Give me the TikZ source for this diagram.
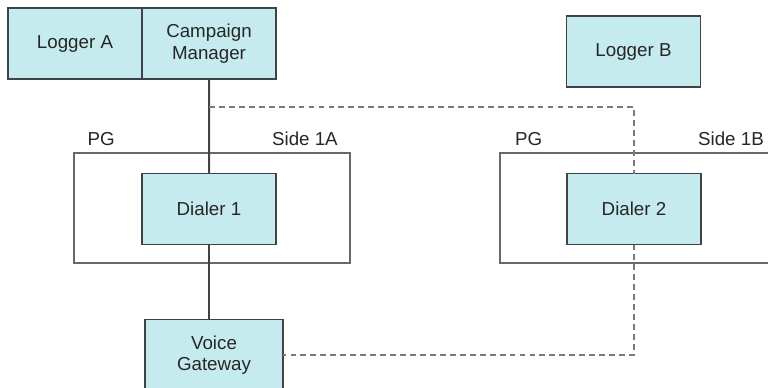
\documentclass[tikz,border=0pt]{standalone}
\usepackage{fontspec}
\setmainfont{Liberation Sans}
\usetikzlibrary{positioning,calc}
\definecolor{boxfill}{HTML}{C6EBEE}
\definecolor{boxline}{HTML}{3F4346}
\definecolor{dashgray}{HTML}{7A7A7A}

\begin{document}
\begin{tikzpicture}[x=0.03cm,y=-0.03cm,node distance=0pt,
  box/.style={draw=boxline,line width=0.9pt,fill=boxfill,minimum width=4.02cm,minimum height=2.13cm,
    align=center,inner sep=0pt,outer sep=0pt,font=\fontsize{16}{18.5}\selectfont,text=black!85},
  pgbox/.style={draw=boxline!80,line width=0.9pt,minimum height=3.3cm,inner sep=0pt,outer sep=0pt},
  lbl/.style={font=\fontsize{16}{18.5}\selectfont,text=black!85,inner sep=0pt}]
  \clip (0,0) rectangle (768,387);
  \fill[white] (0,0) rectangle (768,387);
\tikzset{solidlink/.style={draw=boxline,line width=1.7pt}}
\tikzset{dashlink/.style={draw=dashgray,line width=1.1pt,dash pattern=on 5pt off 3.5pt}}
  % processing groups
  \node[pgbox,minimum width=8.28cm] (pg1) at (212,208) {};
  \node[pgbox,minimum width=8.7cm]  (pg2) at (645,208) {};
  \node[lbl,above right=0.22cm and 0.4cm of pg1.north west] (pg1name) {PG};
  \node[lbl,above left=0.22cm and 0.36cm of pg1.north east] (pg1side) {Side 1A};
  \node[lbl,above right=0.22cm and 0.45cm of pg2.north west] (pg2name) {PG};
  \node[lbl,above left=0.22cm and 0.78cm of pg2.north east] (pg2side) {Side 1B};
  % boxes
  \node[box]          (logA)                  at (75,43.5)   {Logger A};
  \node[box]          (cm) [right=of logA]                   {Campaign\\Manager};
  \node[box]          (logB)                  at (633.5,51.5) {Logger B};
  \node[box]          (dial1)                 at (209,209)   {Dialer 1};
  \node[box]          (dial2)                 at (634,209)   {Dialer 2};
  \node[box,minimum width=4.14cm] (vgw)       at (214,355)   {Voice\\Gateway};
  % links
  \coordinate (tap) at (209,107);
  \path (cm.south) edge [solidlink] (dial1.north);
  \path (dial1.south) edge [solidlink] (dial1.south |- vgw.north);
  \draw[dashlink] (tap) -| (dial2.north);
  \draw[dashlink] (dial2.south) |- (vgw.east);
\end{tikzpicture}
\end{document}
